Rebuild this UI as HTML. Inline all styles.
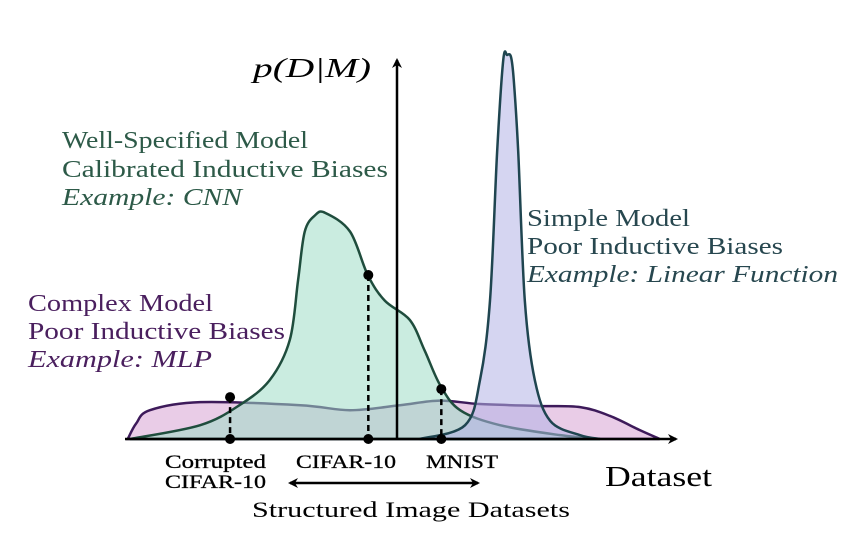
<!DOCTYPE html>
<html><head><meta charset="utf-8">
<style>
html,body{margin:0;padding:0;background:#fff;}
svg{display:block;}
text{font-family:"Liberation Serif",serif;}
</style></head>
<body>
<svg id="chart" width="866" height="541" viewBox="0 0 866 541" xmlns="http://www.w3.org/2000/svg">
<defs>
<marker id="ah" markerWidth="10" markerHeight="10" refX="8" refY="5" orient="auto-start-reverse" markerUnits="userSpaceOnUse"><path d="M0,0 L10,5 L0,10 L3,5 Z" fill="#000"/></marker>
</defs>
<g id="curves"></g>
<line x1="125" y1="439" x2="676" y2="439" stroke="#000" stroke-width="2.5" marker-end="url(#ah)"/>
<line x1="397" y1="439" x2="397" y2="60" stroke="#000" stroke-width="2.5" marker-end="url(#ah)"/>
<g id="markers"></g>
<text x="253" y="77" font-size="27" font-style="italic" textLength="118" lengthAdjust="spacingAndGlyphs">p(D|M)</text>
<text x="605" y="486" font-size="28" textLength="107" lengthAdjust="spacingAndGlyphs">Dataset</text>
<g fill="#2d5a48" font-size="24">
<text x="62" y="148" textLength="246" lengthAdjust="spacingAndGlyphs">Well-Specified Model</text>
<text x="62" y="177" textLength="326" lengthAdjust="spacingAndGlyphs">Calibrated Inductive Biases</text>
<text x="62" y="205" font-style="italic" textLength="180" lengthAdjust="spacingAndGlyphs">Example: CNN</text>
</g>
<g fill="#27474f" font-size="24">
<text x="527" y="226" textLength="163" lengthAdjust="spacingAndGlyphs">Simple Model</text>
<text x="527" y="254" textLength="256" lengthAdjust="spacingAndGlyphs">Poor Inductive Biases</text>
<text x="527" y="282" font-style="italic" textLength="311" lengthAdjust="spacingAndGlyphs">Example: Linear Function</text>
</g>
<g fill="#4a1f5e" font-size="24">
<text x="28" y="311" textLength="185" lengthAdjust="spacingAndGlyphs">Complex Model</text>
<text x="28" y="339" textLength="257" lengthAdjust="spacingAndGlyphs">Poor Inductive Biases</text>
<text x="28" y="367" font-style="italic" textLength="184" lengthAdjust="spacingAndGlyphs">Example: MLP</text>
</g>
<g font-size="19" stroke="#000" stroke-width="0.3">
<text x="165" y="468" textLength="101" lengthAdjust="spacingAndGlyphs">Corrupted</text>
<text x="165" y="488" textLength="101" lengthAdjust="spacingAndGlyphs">CIFAR-10</text>
<text x="296" y="468" textLength="100" lengthAdjust="spacingAndGlyphs">CIFAR-10</text>
<text x="426" y="468" textLength="72" lengthAdjust="spacingAndGlyphs">MNIST</text>
</g>
<line x1="290" y1="483" x2="478" y2="483" stroke="#000" stroke-width="2.5" marker-start="url(#ah)" marker-end="url(#ah)"/>
<text x="252" y="517" font-size="22" textLength="318" lengthAdjust="spacingAndGlyphs">Structured Image Datasets</text>
</svg>
<script>
// data space: x 0..100 (dataset axis), y density 0..100
const mlpX=[0.5,2,4.5,13.6,31.7,40.7,49.7,56.9,64.2,75,82.3,87.7,93.1,96.7];
const mlpY=[0,4,7.5,9.6,8.8,7.5,8.8,10,9.1,8.6,8.3,6,2.3,0];
const cnnX=[0.9,13.6,20.8,26.2,29.8,31.3,32.5,34.4,36.2,40.7,43.9,47,51.5,54.2,57,60.6,67.8,78.7,85.9];
const cnnY=[0,3.6,8.9,15.4,25.8,41.4,54,58.3,58.9,54,42.7,36,31,23,14,7.5,3.6,1,0];
const linX=[53.3,61.5,64.2,66,67.3,68.4,69.1,69.8,70.3,71.1,72.3,74.1,76.9,82.3,85.9];
const linY=[0,3.6,15.4,36,75,98.7,100,99.5,93.5,75,36,15.4,4.7,1,0];
const markX=[19,44,57.2];
const markY=[10.9,42.7,13];
const X0=125,X1=678,Y0=439,YTOP=55;
function sx(v){return X0+(X1-X0)*v/100;}
function sy(v){return Y0-(Y0-YTOP)*v/100;}
function path(xs,ys){
  const p=xs.map((x,i)=>[sx(x),sy(ys[i])]);
  let d='M'+p[0][0]+','+p[0][1];
  for(let i=0;i<p.length-1;i++){
    const p0=p[i-1]||p[i],p1=p[i],p2=p[i+1],p3=p[i+2]||p2;
    const c1=[p1[0]+(p2[0]-p0[0])/6,p1[1]+(p2[1]-p0[1])/6];
    const c2=[p2[0]-(p3[0]-p1[0])/6,p2[1]-(p3[1]-p1[1])/6];
    d+=` C${c1[0]},${Math.min(c1[1],Y0)} ${c2[0]},${Math.min(c2[1],Y0)} ${p2[0]},${p2[1]}`;
  }
  return d;
}
const NS='http://www.w3.org/2000/svg';
const g=document.getElementById('curves');
function draw(xs,ys,fill,stroke,name){
  const el=document.createElementNS(NS,'path');
  el.setAttribute('d',path(xs,ys)+' Z');
  el.setAttribute('fill',fill);el.setAttribute('fill-opacity','0.55');
  el.setAttribute('stroke',stroke);el.setAttribute('stroke-width','2.5');
  
  
  g.appendChild(el);
}
draw(mlpX,mlpY,'#d7a3d4','#3d1a5a','mlp-density');
draw(cnnX,cnnY,'#9fdcc6','#1f4d3d','cnn-density');
draw(linX,linY,'#b3b3e5','#1f4550','linear-density');
const m=document.getElementById('markers');
markX.forEach((v,i)=>{
  const x=sx(v),y=sy(markY[i]);
  const l=document.createElementNS(NS,'line');
  l.setAttribute('x1',x);l.setAttribute('x2',x);l.setAttribute('y1',y);l.setAttribute('y2',Y0);
  l.setAttribute('stroke','#000');l.setAttribute('stroke-width','2.5');l.setAttribute('stroke-dasharray','6,4');
  
  
  m.appendChild(l);
  [y,Y0].forEach(cy=>{
    const c=document.createElementNS(NS,'circle');
    c.setAttribute('cx',x);c.setAttribute('cy',cy);c.setAttribute('r','5');c.setAttribute('fill','#000');
    
    
    m.appendChild(c);
  });
});
</script>
</body></html>
